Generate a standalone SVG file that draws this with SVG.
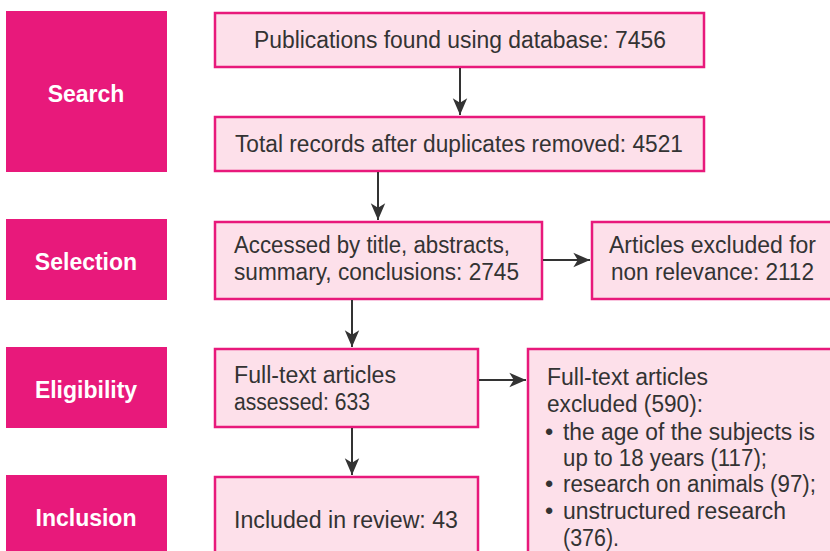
<svg xmlns="http://www.w3.org/2000/svg" width="830" height="551" viewBox="0 0 830 551">
<style>
.stage{fill:#e8197b}
.stage-t{font-family:"Liberation Sans",Arial,sans-serif;font-weight:bold;font-size:23px;fill:#fff;text-anchor:middle}
.box{fill:#fde0ea;stroke:#e8197b;stroke-width:2.5}
.t{font-family:"Liberation Sans",Arial,sans-serif;font-size:23.5px;fill:#333}
.conn{stroke:#333;stroke-width:2;fill:none}
</style>
<defs>
<marker id="ah" markerUnits="userSpaceOnUse" markerWidth="20" markerHeight="20" viewBox="-16 -8 18 16" refX="0" refY="0" orient="auto">
<path d="M0,0 L-15,-6.5 L-11,0 L-15,6.5 Z" fill="#333"/>
</marker>
</defs>
<rect width="830" height="551" fill="#fff"/>
<g id="stage-search"><rect class="stage" x="6" y="11" width="161" height="161"/><text class="stage-t" x="86" y="102">Search</text></g>
<g id="stage-selection"><rect class="stage" x="6" y="219" width="161" height="81"/><text class="stage-t" x="86" y="270">Selection</text></g>
<g id="stage-eligibility"><rect class="stage" x="6" y="347" width="161" height="81"/><text class="stage-t" x="86" y="398">Eligibility</text></g>
<g id="stage-inclusion"><rect class="stage" x="6" y="475" width="161" height="80"/><text class="stage-t" x="86" y="526">Inclusion</text></g>

<g id="n-found"><rect class="box" x="215" y="13" width="489" height="54"/><text class="t" x="254" y="48" textLength="412" lengthAdjust="spacingAndGlyphs">Publications found using database: 7456</text></g>
<g id="n-dedup"><rect class="box" x="215" y="117" width="489" height="54"/><text class="t" x="235" y="152" textLength="448" lengthAdjust="spacingAndGlyphs">Total records after duplicates removed: 4521</text></g>
<g id="n-accessed"><rect class="box" x="215" y="222" width="327" height="77"/>
<text class="t" x="234" y="253" textLength="276" lengthAdjust="spacingAndGlyphs">Accessed by title, abstracts,</text>
<text class="t" x="234" y="280" textLength="285" lengthAdjust="spacingAndGlyphs">summary, conclusions: 2745</text></g>
<g id="n-excl1"><rect class="box" x="592" y="222" width="245" height="77"/>
<text class="t" x="609" y="253" textLength="207" lengthAdjust="spacingAndGlyphs">Articles excluded for</text>
<text class="t" x="611" y="280" textLength="203" lengthAdjust="spacingAndGlyphs">non relevance: 2112</text></g>
<g id="n-fulltext"><rect class="box" x="215" y="349" width="263" height="78"/>
<text class="t" x="234" y="383" textLength="162" lengthAdjust="spacingAndGlyphs">Full-text articles</text>
<text class="t" x="234" y="410" textLength="136" lengthAdjust="spacingAndGlyphs">assessed: 633</text></g>
<g id="n-excl2"><rect class="box" x="528" y="349" width="310" height="210"/>
<text class="t" x="547" y="385" textLength="161" lengthAdjust="spacingAndGlyphs">Full-text articles</text>
<text class="t" x="547" y="412" textLength="156" lengthAdjust="spacingAndGlyphs">excluded (590):</text>
<text class="t" x="545" y="440">•</text>
<text class="t" x="563" y="440" textLength="252" lengthAdjust="spacingAndGlyphs">the age of the subjects is</text>
<text class="t" x="563" y="466" textLength="204" lengthAdjust="spacingAndGlyphs">up to 18 years (117);</text>
<text class="t" x="545" y="492">•</text>
<text class="t" x="563" y="492" textLength="253" lengthAdjust="spacingAndGlyphs">research on animals (97);</text>
<text class="t" x="545" y="519">•</text>
<text class="t" x="563" y="519" textLength="223" lengthAdjust="spacingAndGlyphs">unstructured research</text>
<text class="t" x="563" y="546" textLength="56" lengthAdjust="spacingAndGlyphs">(376).</text></g>
<g id="n-included"><rect class="box" x="215" y="477" width="263" height="80"/>
<text class="t" x="234" y="528" textLength="224" lengthAdjust="spacingAndGlyphs">Included in review: 43</text></g>

<g id="connectors">
<line class="conn" x1="460" y1="68" x2="460" y2="115" marker-end="url(#ah)"/>
<line class="conn" x1="378" y1="172" x2="378" y2="220" marker-end="url(#ah)"/>
<line class="conn" x1="543" y1="260" x2="590" y2="260" marker-end="url(#ah)"/>
<line class="conn" x1="352" y1="300" x2="352" y2="347" marker-end="url(#ah)"/>
<line class="conn" x1="479" y1="380" x2="526" y2="380" marker-end="url(#ah)"/>
<line class="conn" x1="352" y1="428" x2="352" y2="475" marker-end="url(#ah)"/>
</g>
</svg>
